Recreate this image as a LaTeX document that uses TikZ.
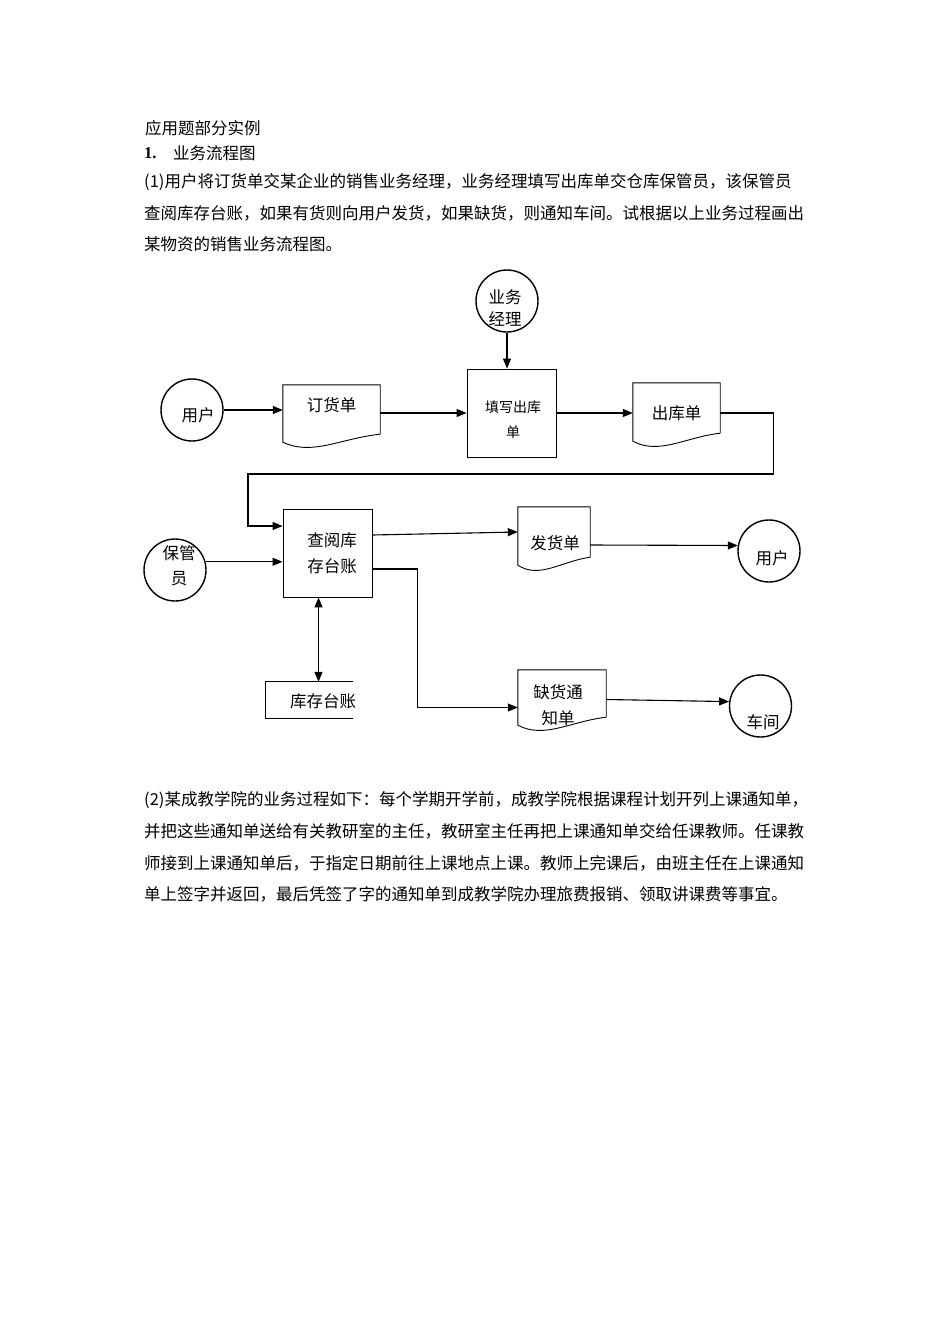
\documentclass[tikz,border=0pt]{standalone}
\usepackage{fontspec}
\setmainfont{Liberation Serif}
\newfontfamily\cjk{Noto Sans CJK SC}
\usetikzlibrary{arrows.meta,calc}

\newcommand{\docoutline}[1]{%
  \draw[line width=0.9pt] (#1.south east) -- (#1.north east) -- (#1.north west) -- ($(#1.south west)+(0,8)$)
    .. controls ($(#1.south west)!0.3!(#1.south east)+(0,22)$) and ($(#1.south west)!0.6!(#1.south east)+(0,4)$) .. (#1.south east);}

\begin{document}
\begin{tikzpicture}[x=1pt, y=-1pt, every node/.style={font=\cjk\fontsize{16.5}{25}\selectfont, inner sep=0pt}, >={Triangle[length=10pt, width=8pt]},
	actor/.style={circle, draw, line width=1.4pt, minimum size=62pt},
	procbox/.style={draw, line width=0.9pt, minimum width=89pt, minimum height=88pt},
	docbox/.style={minimum height=49pt},
	flow/.style={->, line width=1.1pt},
	textline/.style={anchor=west}]
	\fill[white] (0,0) rectangle (950,1344);
	\useasboundingbox (0,0) rectangle (950,1344);
	% text above the chart
	\node[textline] (title) at (145,128) {应用题部分实例};
	\node[textline, font=\bfseries\fontsize{16.5}{25}\selectfont] (headnum) at (144,153) {1.};
	\node[textline] (head) at (173,153) {业务流程图};
	\node[textline] (taskA1) at (144,182) {(1)用户将订货单交某企业的销售业务经理，业务经理填写出库单交仓库保管员，该保管员};
	\node[textline] (taskA2) at (144,213) {查阅库存台账，如果有货则向用户发货，如果缺货，则通知车间。试根据以上业务过程画出};
	\node[textline] (taskA3) at (144,244) {某物资的销售业务流程图。};
	% chart
	\node[actor, label={[name=mgr-t, align=center, font=\cjk\fontsize{16.5}{22}\selectfont, xshift=-2pt, yshift=-7pt]center:业务\\经理}] (mgr) at (507,301) {};
	\node[actor, label={[name=user1-t, xshift=6pt, yshift=-5pt]center:用户}] (user1) at (192,410) {};
	\node[docbox, minimum width=97pt, label={[name=order-t, yshift=4.5pt]center:订货单}] (order) at (331.5,409.5) {};
	\node[procbox, label={[name=fill-t, align=center, font=\cjk\fontsize{14}{25}\selectfont, xshift=1.5pt, yshift=-7pt]center:填写出库\\单}] (fill) at (511.5,413) {};
	\node[docbox, minimum width=87pt, minimum height=50pt, label={[name=out-t, yshift=-5pt]center:出库单}] (out) at (676.5,408) {};
	\node[procbox, label={[name=check-t, align=center, font=\cjk\fontsize{16.5}{26}\selectfont, xshift=4.5pt]center:查阅库\\存台账}] (check) at (327.5,553) {};
	\node[actor, label={[name=keeper-t, align=center, xshift=4pt, yshift=4.5pt]center:保管\\员}] (keeper) at (175,570) {};
	\node[docbox, minimum width=72pt, minimum height=50pt, label={[name=ship-t, xshift=1pt, yshift=-11pt]center:发货单}] (ship) at (554,532) {};
	\node[actor, label={[name=user2-t, xshift=3pt, yshift=-7pt]center:用户}] (user2) at (769,551) {};
	\node[docbox, minimum width=88pt, minimum height=47pt, label={[name=short-t, align=center, font=\cjk\fontsize{16.5}{26}\selectfont, xshift=-4pt, yshift=-11.5pt]center:缺货通\\知单}] (short) at (562,693.5) {};
	\node[actor, label={[name=shop-t, xshift=2.5pt, yshift=-16pt]center:车间}] (shop) at (760.5,706) {};
	\node[minimum width=87pt, minimum height=36pt, label={[name=stock-t, xshift=13.5pt, yshift=-1pt]center:库存台账}] (stock) at (309.5,700) {};
	\docoutline{order}
	\docoutline{out}
	\docoutline{ship}
	\docoutline{short}
	\draw[line width=1.2pt] (stock.north east) -- (stock.north west) -- (stock.south west) -- (stock.south east);
	\coordinate (bendL) at (248,474);
	\draw[flow] (mgr) -- (mgr |- fill.north);
	\draw[flow] (user1) -- (order.west |- user1);
	\draw[flow] (order.east |- fill) -- (fill);
	\draw[flow] (fill) -- (out.west |- fill);
	\draw[flow] (out.east |- fill) -- ++(53,0) |- (bendL) |- ([yshift=27pt]check.west);
	\draw[flow] (keeper.15) -- (keeper.15 -| check.west);
	\draw[flow] ([yshift=18pt]check.east) -- (ship.west);
	\draw[flow] ([yshift=-13pt]ship.east) -- (user2.170);
	\draw[flow] ([yshift=-16pt]check.east) -- ++(45,0) |- ([yshift=-14pt]short.west);
	\draw[flow] ([yshift=-6pt]short.east) -- (shop.172);
	\draw[<->, line width=1.3pt] ([xshift=-9pt]check.south) -- ([xshift=-9pt]check.south |- stock.north);
	% text below the chart
	\node[textline] (taskB1) at (144,800) {(2)某成教学院的业务过程如下：每个学期开学前，成教学院根据课程计划开列上课通知单，};
	\node[textline] (taskB2) at (144,831) {并把这些通知单送给有关教研室的主任，教研室主任再把上课通知单交给任课教师。任课教};
	\node[textline] (taskB3) at (144,863) {师接到上课通知单后，于指定日期前往上课地点上课。教师上完课后，由班主任在上课通知};
	\node[textline] (taskB4) at (144,894) {单上签字并返回，最后凭签了字的通知单到成教学院办理旅费报销、领取讲课费等事宜。};
\end{tikzpicture}
\end{document}
